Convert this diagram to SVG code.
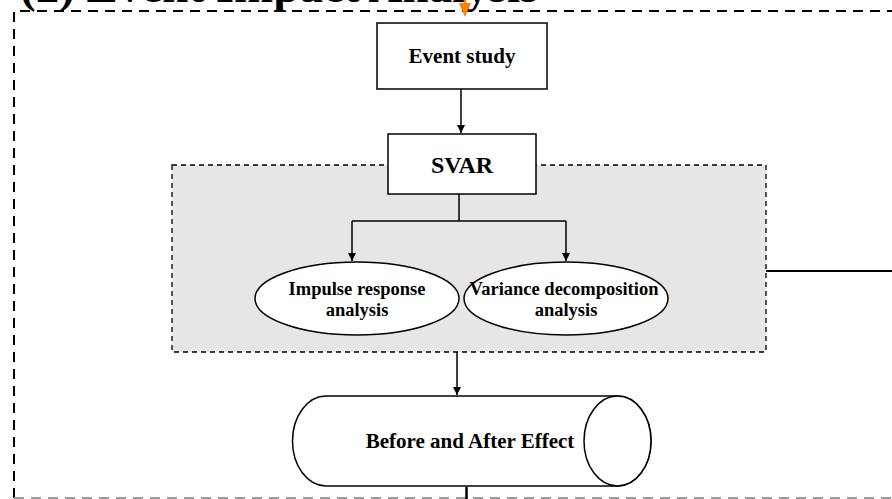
<svg xmlns="http://www.w3.org/2000/svg" width="892" height="499" viewBox="0 0 892 499">
  <style>
    .t { font-family: "Liberation Serif", "Times New Roman", serif; font-weight: bold; fill: #000; text-anchor: middle; }
    .box { fill: #fff; stroke: #000; stroke-width: 1.5; }
    .conn { fill: none; stroke: #000; stroke-width: 1.5; }
  </style>
  <defs>
    <marker id="arr" viewBox="0 0 10 10" refX="10" refY="5" markerWidth="8" markerHeight="8" markerUnits="userSpaceOnUse" orient="auto">
      <path d="M0,0 L10,5 L0,10 z" fill="#000"/>
    </marker>
  </defs>

  <!-- title (cut off at top, as in the reference) -->
  <text x="20" y="2" font-family="Liberation Serif, Times New Roman, serif" font-weight="bold" font-size="47" fill="#000">(2) Event Impact Analysis</text>

  <!-- outer dashed frame -->
  <g id="frame">
    <path d="M14,498 L14,11 L892,11" fill="none" stroke="#000" stroke-width="2" stroke-dasharray="10,7"/>
    <line x1="14" y1="498" x2="892" y2="498" stroke="#9a9a9a" stroke-width="2" stroke-dasharray="10,7"/>
  </g>

  <!-- gray dashed SVAR region -->
  <g id="svar-region">
    <rect x="172" y="165" width="594" height="187" fill="#e6e6e6" stroke="#000" stroke-width="1.3" stroke-dasharray="5,4"/>
  </g>

  <g id="event-study">
    <rect class="box" x="377" y="23" width="170" height="66"/>
    <text class="t" x="462" y="63" font-size="21">Event study</text>
  </g>

  <g id="svar">
    <rect class="box" x="388" y="134" width="148" height="60"/>
    <text class="t" x="462" y="173" font-size="24">SVAR</text>
  </g>

  <g id="impulse">
    <ellipse class="box" cx="357" cy="298.5" rx="102" ry="36.5"/>
    <text class="t" x="357" y="295" font-size="18.5">Impulse response</text>
    <text class="t" x="357" y="316" font-size="18.5">analysis</text>
  </g>

  <g id="variance">
    <ellipse class="box" cx="566" cy="298.5" rx="102" ry="36.5"/>
    <text class="t" x="564" y="295" font-size="18.5">Variance decomposition</text>
    <text class="t" x="566" y="316" font-size="18.5">analysis</text>
  </g>

  <g id="before-after">
    <path class="box" d="M326,396 L617.5,396 A33.5,45 0 0 1 617.5,486 L326,486 A33.5,45 0 0 1 326,396 Z"/>
    <ellipse class="box" cx="617.5" cy="441" rx="33.5" ry="45"/>
    <text class="t" x="470" y="448" font-size="21">Before and After Effect</text>
  </g>

  <g id="connectors">
    <line x1="465" y1="0" x2="465" y2="4" stroke="#ff8000" stroke-width="2"/>
    <path d="M459,3 L471,3 L465,17 Z" fill="#ff8000"/>
    <line class="conn" x1="461" y1="89" x2="461" y2="133" marker-end="url(#arr)"/>
    <path class="conn" d="M459,194 L459,221"/>
    <path class="conn" d="M352,221 L566,221"/>
    <line class="conn" x1="352" y1="221" x2="352" y2="261" marker-end="url(#arr)"/>
    <line class="conn" x1="566" y1="221" x2="566" y2="261" marker-end="url(#arr)"/>
    <line class="conn" x1="457" y1="352" x2="457" y2="395" marker-end="url(#arr)"/>
    <line x1="766" y1="271" x2="892" y2="271" stroke="#000" stroke-width="2"/>
    <line x1="466.5" y1="487" x2="466.5" y2="499" stroke="#000" stroke-width="2.5"/>
  </g>
</svg>
